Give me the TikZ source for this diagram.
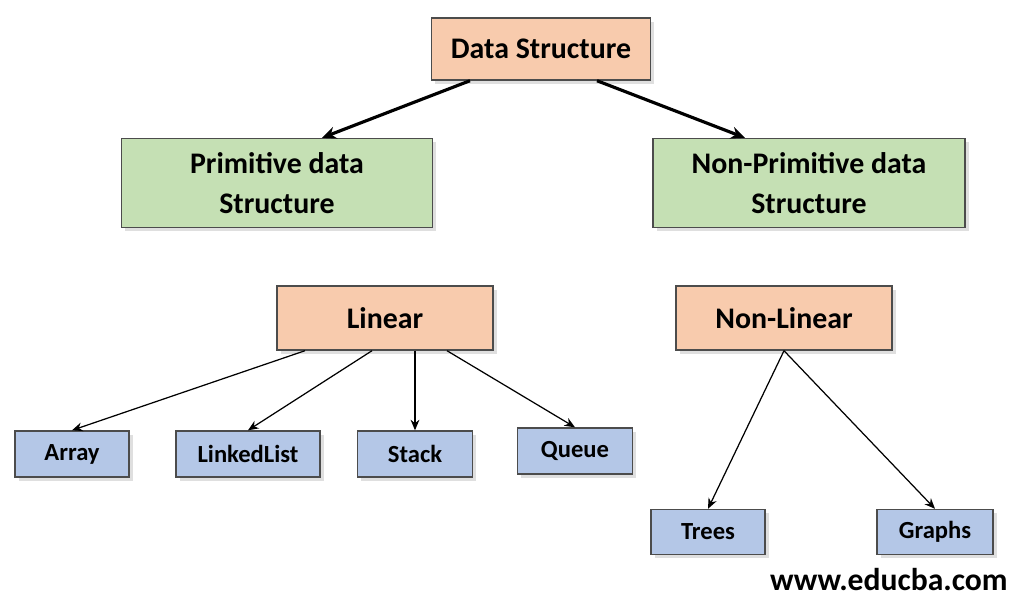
\documentclass[tikz,border=0pt]{standalone}
\usepackage{fontspec}
\setmainfont{Carlito}
\usetikzlibrary{arrows.meta,shadows}
\definecolor{salmon}{HTML}{F8CBAD}
\definecolor{grn}{HTML}{C5E0B4}
\definecolor{blu}{HTML}{B4C7E7}
\begin{document}
\begin{tikzpicture}[x=0.02cm,y=-0.02cm,
  box/.style={draw=black!70,line width=0.8pt,align=center,font=\bfseries,inner sep=0pt,drop shadow={shadow xshift=2pt,shadow yshift=-2pt,opacity=0.25}},
  big/.style={box,font=\fontsize{17}{21}\selectfont\bfseries},
  small/.style={box,font=\fontsize{14}{17}\selectfont\bfseries},
  thick arr/.style={-{Stealth[length=8pt,width=7pt]},line width=1.8pt},
  thin arr/.style={-{Stealth[length=6pt,width=5pt]},line width=0.7pt}]
\useasboundingbox (0,0) rectangle (1019,600);
\node[big,fill=salmon,minimum width=219*0.02cm,minimum height=62*0.02cm] (ds) at (541,49) {Data Structure};
\node[big,fill=grn,minimum width=311*0.02cm,minimum height=89*0.02cm] (p) at (277,183) {Primitive data\\[2pt]Structure};
\node[big,fill=grn,minimum width=312*0.02cm,minimum height=89*0.02cm] (np) at (809,183) {Non-Primitive data\\[2pt]Structure};
\node[big,fill=salmon,minimum width=216*0.02cm,minimum height=64*0.02cm] (lin) at (385,318) {Linear};
\node[big,fill=salmon,minimum width=216*0.02cm,minimum height=64*0.02cm] (nl) at (784,318) {Non-Linear};
\node[small,fill=blu,minimum width=114*0.02cm,minimum height=46*0.02cm] (arr) at (72,454) {Array};
\node[small,fill=blu,minimum width=144*0.02cm,minimum height=46*0.02cm] (ll) at (248,454) {LinkedList};
\node[small,fill=blu,minimum width=115*0.02cm,minimum height=46*0.02cm] (st) at (415,454) {Stack};
\node[small,fill=blu,minimum width=115*0.02cm,minimum height=46*0.02cm] (q) at (575,451) {Queue};
\node[small,fill=blu,minimum width=114*0.02cm,minimum height=45*0.02cm] (tr) at (708,532) {Trees};
\node[small,fill=blu,minimum width=116*0.02cm,minimum height=45*0.02cm] (gr) at (935,532) {Graphs};
\node[font=\fontsize{18}{22}\selectfont\bfseries,anchor=east,inner sep=0pt] (web) at (1008,580) {www.educba.com};
\draw[thick arr] ([xshift=-71*0.02cm]ds.south) -- ([xshift=45*0.02cm]p.north);
\draw[thick arr] ([xshift=56*0.02cm]ds.south) -- ([xshift=-64*0.02cm]np.north);
\draw[thin arr] ([xshift=-80*0.02cm]lin.south) -- (arr.north);
\draw[thin arr] ([xshift=-13*0.02cm]lin.south) -- (ll.north);
\draw[thin arr] ([xshift=30*0.02cm]lin.south) -- (st.north);
\draw[thin arr] ([xshift=62*0.02cm]lin.south) -- (q.north);
\draw[thin arr] (nl.south) -- (tr.north);
\draw[thin arr] (nl.south) -- (gr.north);
\end{tikzpicture}
\end{document}
